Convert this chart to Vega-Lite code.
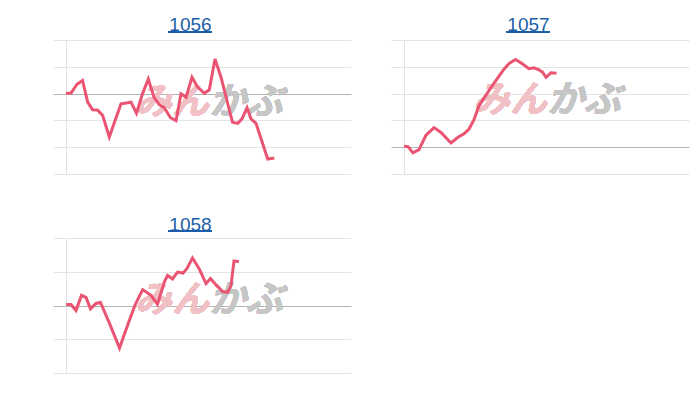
{
  "$schema": "https://vega.github.io/schema/vega-lite/v6.json",
  "background": "white",
  "padding": {"left": 52, "top": 16, "right": 5, "bottom": 5},
  "columns": 2,
  "spacing": {"row": 40, "column": 39},
  "config": {
    "view": {"stroke": null},
    "title": {"font": "Liberation Sans", "fontSize": 19, "fontWeight": "normal", "color": "#1b5ea8", "anchor": "middle", "frame": "group", "dx": -18, "offset": -4},
    "axis": {"labels": false, "title": null, "tickSize": 13, "domainColor": "#e2e2e2", "domainWidth": 1}
  },
  "datasets": {
    "prices": [
      {"code": "1056", "t": 0, "v": 0.0},
      {"code": "1056", "t": 5, "v": 0.02},
      {"code": "1056", "t": 11, "v": 0.35},
      {"code": "1056", "t": 16.5, "v": 0.49},
      {"code": "1056", "t": 21.7, "v": -0.32},
      {"code": "1056", "t": 26.5, "v": -0.6},
      {"code": "1056", "t": 31.5, "v": -0.61},
      {"code": "1056", "t": 36.7, "v": -0.82},
      {"code": "1056", "t": 43.3, "v": -1.62},
      {"code": "1056", "t": 49, "v": -1.01},
      {"code": "1056", "t": 55, "v": -0.38},
      {"code": "1056", "t": 65, "v": -0.32},
      {"code": "1056", "t": 70.5, "v": -0.73},
      {"code": "1056", "t": 76.5, "v": -0.01},
      {"code": "1056", "t": 82.3, "v": 0.54},
      {"code": "1056", "t": 88, "v": -0.14},
      {"code": "1056", "t": 93.3, "v": -0.41},
      {"code": "1056", "t": 98.3, "v": -0.53},
      {"code": "1056", "t": 104.5, "v": -0.9},
      {"code": "1056", "t": 110, "v": -1.01},
      {"code": "1056", "t": 115, "v": -0.01},
      {"code": "1056", "t": 120, "v": -0.14},
      {"code": "1056", "t": 126, "v": 0.61},
      {"code": "1056", "t": 131.7, "v": 0.24},
      {"code": "1056", "t": 138.3, "v": 0.01},
      {"code": "1056", "t": 143.3, "v": 0.14},
      {"code": "1056", "t": 149, "v": 1.29},
      {"code": "1056", "t": 155, "v": 0.61},
      {"code": "1056", "t": 166.5, "v": -1.07},
      {"code": "1056", "t": 171.7, "v": -1.11},
      {"code": "1056", "t": 176, "v": -0.94},
      {"code": "1056", "t": 181, "v": -0.53},
      {"code": "1056", "t": 185, "v": -0.94},
      {"code": "1056", "t": 190, "v": -1.11},
      {"code": "1056", "t": 201.7, "v": -2.44},
      {"code": "1056", "t": 208.3, "v": -2.4},
      {"code": "1057", "t": 0, "v": 0.04},
      {"code": "1057", "t": 4, "v": 0.02},
      {"code": "1057", "t": 9, "v": -0.21},
      {"code": "1057", "t": 15, "v": -0.09},
      {"code": "1057", "t": 22, "v": 0.45},
      {"code": "1057", "t": 30, "v": 0.73},
      {"code": "1057", "t": 37, "v": 0.55},
      {"code": "1057", "t": 47, "v": 0.16},
      {"code": "1057", "t": 54, "v": 0.37},
      {"code": "1057", "t": 60, "v": 0.5},
      {"code": "1057", "t": 65, "v": 0.68},
      {"code": "1057", "t": 70, "v": 1.03},
      {"code": "1057", "t": 75, "v": 1.55},
      {"code": "1057", "t": 82, "v": 1.94},
      {"code": "1057", "t": 88, "v": 2.28},
      {"code": "1057", "t": 95, "v": 2.65},
      {"code": "1057", "t": 100, "v": 2.91},
      {"code": "1057", "t": 105, "v": 3.12},
      {"code": "1057", "t": 111.5, "v": 3.27},
      {"code": "1057", "t": 118, "v": 3.12},
      {"code": "1057", "t": 125, "v": 2.93},
      {"code": "1057", "t": 130, "v": 2.96},
      {"code": "1057", "t": 135, "v": 2.89},
      {"code": "1057", "t": 138.5, "v": 2.8},
      {"code": "1057", "t": 142, "v": 2.61},
      {"code": "1057", "t": 147, "v": 2.78},
      {"code": "1057", "t": 152.5, "v": 2.76},
      {"code": "1058", "t": 0, "v": 0.03},
      {"code": "1058", "t": 5, "v": 0.03},
      {"code": "1058", "t": 10, "v": -0.15},
      {"code": "1058", "t": 15.5, "v": 0.3},
      {"code": "1058", "t": 20, "v": 0.24},
      {"code": "1058", "t": 24.5, "v": -0.1},
      {"code": "1058", "t": 30, "v": 0.06},
      {"code": "1058", "t": 34.5, "v": 0.09},
      {"code": "1058", "t": 43.5, "v": -0.53},
      {"code": "1058", "t": 53.5, "v": -1.26},
      {"code": "1058", "t": 61.5, "v": -0.59},
      {"code": "1058", "t": 69, "v": 0.01},
      {"code": "1058", "t": 76.7, "v": 0.47},
      {"code": "1058", "t": 85, "v": 0.3},
      {"code": "1058", "t": 91.5, "v": 0.04},
      {"code": "1058", "t": 98.5, "v": 0.71},
      {"code": "1058", "t": 101.5, "v": 0.89},
      {"code": "1058", "t": 106.5, "v": 0.79},
      {"code": "1058", "t": 111.5, "v": 0.99},
      {"code": "1058", "t": 117, "v": 0.96},
      {"code": "1058", "t": 121, "v": 1.1},
      {"code": "1058", "t": 126.5, "v": 1.41},
      {"code": "1058", "t": 133, "v": 1.1},
      {"code": "1058", "t": 140, "v": 0.65},
      {"code": "1058", "t": 144.5, "v": 0.8},
      {"code": "1058", "t": 150, "v": 0.61},
      {"code": "1058", "t": 156.7, "v": 0.41},
      {"code": "1058", "t": 161.5, "v": 0.39},
      {"code": "1058", "t": 165, "v": 0.59},
      {"code": "1058", "t": 168, "v": 1.32},
      {"code": "1058", "t": 173, "v": 1.3}
    ]
  },
  "concat": [
    {
      "title": "1056",
      "width": 285,
      "height": 134,
      "data": {"name": "prices"},
      "transform": [{"filter": "datum.code === '1056'"}],
      "encoding": {
        "x": {"field": "t", "type": "quantitative", "scale": {"domain": [0, 285], "nice": false, "zero": false}, "axis": null},
        "y": {"field": "v", "type": "quantitative", "scale": {"domain": [-3, 2], "nice": false, "zero": false},
          "axis": {"values": [-3, -2, -1, 0, 1, 2], "gridColor": {"condition": {"test": "datum.value === 0", "value": "#b4b4b4"}, "value": "#e4e4e4"}, "tickColor": {"condition": {"test": "datum.value === 0", "value": "#b4b4b4"}, "value": "#e4e4e4"}}}
      },
      "layer": [
        {"mark": {"type": "rule", "color": "#1b5ea8", "strokeWidth": 1.5}, "encoding": {"x": {"datum": 102.5}, "x2": {"datum": 145.5}, "y": {"datum": 2.29}}},
        {"mark": {"type": "text", "text": "みん", "font": "Noto Sans CJK JP", "fontSize": 37, "fontWeight": "bold", "fontStyle": "italic", "align": "right", "baseline": "middle", "fill": "#f0c0c5", "fillOpacity": 0.85}, "encoding": {"x": {"datum": 143}, "y": {"datum": -0.34}}},
        {"mark": {"type": "text", "text": "かぶ", "font": "Noto Sans CJK JP", "fontSize": 37, "fontWeight": "bold", "fontStyle": "italic", "align": "left", "baseline": "middle", "fill": "#c6c6c6", "fillOpacity": 0.85}, "encoding": {"x": {"datum": 143}, "y": {"datum": -0.34}}},
        {"mark": {"type": "line", "color": "#ea5472", "strokeWidth": 3}}
      ]
    },
    {
      "title": "1057",
      "width": 285,
      "height": 134,
      "data": {"name": "prices"},
      "transform": [{"filter": "datum.code === '1057'"}],
      "encoding": {
        "x": {"field": "t", "type": "quantitative", "scale": {"domain": [0, 285], "nice": false, "zero": false}, "axis": null},
        "y": {"field": "v", "type": "quantitative", "scale": {"domain": [-1, 4], "nice": false, "zero": false},
          "axis": {"values": [-1, 0, 1, 2, 3, 4], "gridColor": {"condition": {"test": "datum.value === 0", "value": "#b4b4b4"}, "value": "#e4e4e4"}, "tickColor": {"condition": {"test": "datum.value === 0", "value": "#b4b4b4"}, "value": "#e4e4e4"}}}
      },
      "layer": [
        {"mark": {"type": "rule", "color": "#1b5ea8", "strokeWidth": 1.5}, "encoding": {"x": {"datum": 102.5}, "x2": {"datum": 145.5}, "y": {"datum": 4.29}}},
        {"mark": {"type": "text", "text": "みん", "font": "Noto Sans CJK JP", "fontSize": 37, "fontWeight": "bold", "fontStyle": "italic", "align": "right", "baseline": "middle", "fill": "#f0c0c5", "fillOpacity": 0.85}, "encoding": {"x": {"datum": 143}, "y": {"datum": 1.72}}},
        {"mark": {"type": "text", "text": "かぶ", "font": "Noto Sans CJK JP", "fontSize": 37, "fontWeight": "bold", "fontStyle": "italic", "align": "left", "baseline": "middle", "fill": "#c6c6c6", "fillOpacity": 0.85}, "encoding": {"x": {"datum": 143}, "y": {"datum": 1.72}}},
        {"mark": {"type": "line", "color": "#ea5472", "strokeWidth": 3}}
      ]
    },
    {
      "title": "1058",
      "width": 285,
      "height": 135,
      "data": {"name": "prices"},
      "transform": [{"filter": "datum.code === '1058'"}],
      "encoding": {
        "x": {"field": "t", "type": "quantitative", "scale": {"domain": [0, 285], "nice": false, "zero": false}, "axis": null},
        "y": {"field": "v", "type": "quantitative", "scale": {"domain": [-2, 2], "nice": false, "zero": false},
          "axis": {"values": [-2, -1, 0, 1, 2], "gridColor": {"condition": {"test": "datum.value === 0", "value": "#b4b4b4"}, "value": "#e4e4e4"}, "tickColor": {"condition": {"test": "datum.value === 0", "value": "#b4b4b4"}, "value": "#e4e4e4"}}}
      },
      "layer": [
        {"mark": {"type": "rule", "color": "#1b5ea8", "strokeWidth": 1.5}, "encoding": {"x": {"datum": 102.5}, "x2": {"datum": 145.5}, "y": {"datum": 2.2}}},
        {"mark": {"type": "text", "text": "みん", "font": "Noto Sans CJK JP", "fontSize": 37, "fontWeight": "bold", "fontStyle": "italic", "align": "right", "baseline": "middle", "fill": "#f0c0c5", "fillOpacity": 0.85}, "encoding": {"x": {"datum": 143}, "y": {"datum": 0.12}}},
        {"mark": {"type": "text", "text": "かぶ", "font": "Noto Sans CJK JP", "fontSize": 37, "fontWeight": "bold", "fontStyle": "italic", "align": "left", "baseline": "middle", "fill": "#c6c6c6", "fillOpacity": 0.85}, "encoding": {"x": {"datum": 143}, "y": {"datum": 0.12}}},
        {"mark": {"type": "line", "color": "#ea5472", "strokeWidth": 3}}
      ]
    }
  ]
}
